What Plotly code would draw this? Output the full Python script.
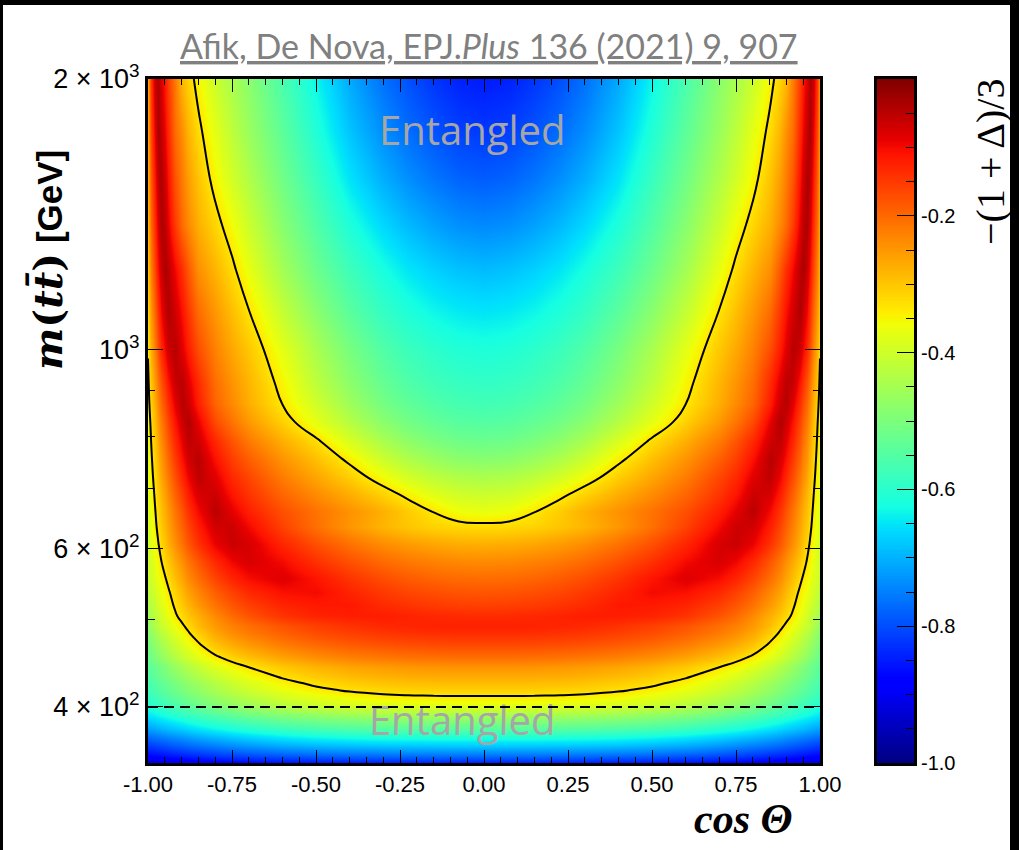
import numpy as np
import plotly.graph_objects as go

# cos(theta) columns (positive half; the map is mirror-symmetric in cos(theta))
cos_half = [0.0, 0.075, 0.15, 0.225, 0.3, 0.4, 0.5, 0.6, 0.7, 0.75, 0.8, 0.85, 0.88,
            0.9, 0.92, 0.94, 0.95, 0.96, 0.97, 0.98, 0.99, 1.0]

# invariant-mass rows [GeV]
mass = [346.5, 350, 355, 362, 370, 378, 386, 393, 400, 406, 412, 418, 425, 433, 443,
        455, 468, 482, 492, 505, 520, 537, 557, 580, 608, 635, 661, 690, 720, 755,
        790, 830, 870, 920, 1000, 1100, 1225, 1375, 1550, 1750, 2000]

# -(1+Delta)/3 on the (mass, cos_half) grid, one row per mass value
z_half = [
    [-0.85, -0.85, -0.85, -0.851, -0.852, -0.855, -0.86, -0.867, -0.877, -0.884, -0.891, -0.899, -0.904, -0.908, -0.912, -0.916, -0.919, -0.921, -0.923, -0.925, -0.928, -0.93],
    [-0.80, -0.80, -0.80, -0.801, -0.803, -0.806, -0.813, -0.822, -0.834, -0.842, -0.851, -0.861, -0.868, -0.873, -0.878, -0.883, -0.886, -0.889, -0.891, -0.894, -0.897, -0.90],
    [-0.75, -0.75, -0.75, -0.751, -0.753, -0.757, -0.764, -0.775, -0.789, -0.799, -0.809, -0.821, -0.828, -0.834, -0.84, -0.846, -0.849, -0.852, -0.855, -0.858, -0.862, -0.865],
    [-0.68, -0.68, -0.68, -0.682, -0.684, -0.689, -0.698, -0.71, -0.728, -0.739, -0.752, -0.766, -0.775, -0.782, -0.789, -0.796, -0.80, -0.804, -0.808, -0.812, -0.816, -0.82],
    [-0.61, -0.61, -0.611, -0.612, -0.614, -0.62, -0.63, -0.645, -0.665, -0.678, -0.692, -0.708, -0.719, -0.727, -0.735, -0.743, -0.747, -0.752, -0.756, -0.761, -0.765, -0.77],
    [-0.545, -0.545, -0.546, -0.547, -0.55, -0.556, -0.567, -0.583, -0.605, -0.619, -0.635, -0.652, -0.664, -0.673, -0.681, -0.69, -0.695, -0.70, -0.705, -0.71, -0.715, -0.72],
    [-0.49, -0.49, -0.491, -0.492, -0.495, -0.502, -0.514, -0.531, -0.555, -0.57, -0.587, -0.607, -0.619, -0.629, -0.638, -0.648, -0.653, -0.658, -0.663, -0.669, -0.674, -0.68],
    [-0.44, -0.44, -0.441, -0.442, -0.446, -0.453, -0.466, -0.484, -0.51, -0.527, -0.545, -0.566, -0.58, -0.589, -0.60, -0.61, -0.616, -0.621, -0.627, -0.633, -0.639, -0.645],
    [-0.385, -0.385, -0.386, -0.388, -0.391, -0.40, -0.414, -0.436, -0.466, -0.484, -0.505, -0.529, -0.545, -0.556, -0.568, -0.58, -0.586, -0.593, -0.60, -0.606, -0.613, -0.62],
    [-0.355, -0.355, -0.356, -0.358, -0.362, -0.371, -0.386, -0.408, -0.439, -0.458, -0.48, -0.505, -0.522, -0.534, -0.546, -0.559, -0.565, -0.572, -0.579, -0.586, -0.593, -0.60],
    [-0.331, -0.331, -0.332, -0.334, -0.338, -0.347, -0.363, -0.386, -0.418, -0.438, -0.461, -0.487, -0.504, -0.516, -0.529, -0.542, -0.549, -0.556, -0.563, -0.57, -0.577, -0.585],
    [-0.31, -0.31, -0.311, -0.313, -0.317, -0.327, -0.343, -0.367, -0.401, -0.422, -0.446, -0.473, -0.49, -0.503, -0.516, -0.53, -0.537, -0.545, -0.552, -0.559, -0.567, -0.575],
    [-0.29, -0.29, -0.291, -0.293, -0.297, -0.308, -0.324, -0.349, -0.384, -0.406, -0.431, -0.459, -0.477, -0.49, -0.504, -0.519, -0.526, -0.533, -0.541, -0.549, -0.557, -0.565],
    [-0.27, -0.27, -0.27, -0.272, -0.277, -0.287, -0.303, -0.326, -0.36, -0.382, -0.408, -0.437, -0.456, -0.47, -0.485, -0.50, -0.508, -0.516, -0.524, -0.533, -0.544, -0.555],
    [-0.245, -0.245, -0.247, -0.25, -0.255, -0.265, -0.28, -0.302, -0.333, -0.355, -0.38, -0.412, -0.435, -0.45, -0.467, -0.487, -0.497, -0.506, -0.515, -0.524, -0.533, -0.54],
    [-0.205, -0.205, -0.207, -0.21, -0.215, -0.225, -0.24, -0.262, -0.292, -0.312, -0.34, -0.373, -0.397, -0.413, -0.432, -0.452, -0.462, -0.473, -0.485, -0.497, -0.511, -0.525],
    [-0.17, -0.17, -0.172, -0.175, -0.18, -0.19, -0.205, -0.226, -0.256, -0.276, -0.30, -0.343, -0.37, -0.388, -0.408, -0.43, -0.441, -0.453, -0.466, -0.479, -0.494, -0.51],
    [-0.138, -0.138, -0.14, -0.143, -0.148, -0.158, -0.172, -0.193, -0.222, -0.242, -0.27, -0.31, -0.34, -0.36, -0.382, -0.404, -0.416, -0.428, -0.442, -0.456, -0.472, -0.49],
    [-0.124, -0.124, -0.125, -0.128, -0.132, -0.142, -0.157, -0.178, -0.207, -0.226, -0.252, -0.29, -0.322, -0.342, -0.362, -0.384, -0.396, -0.408, -0.421, -0.436, -0.455, -0.475],
    [-0.135, -0.134, -0.131, -0.126, -0.12, -0.121, -0.127, -0.144, -0.178, -0.203, -0.236, -0.277, -0.30, -0.32, -0.341, -0.366, -0.38, -0.395, -0.41, -0.425, -0.44, -0.455],
    [-0.158, -0.156, -0.152, -0.144, -0.134, -0.115, -0.116, -0.127, -0.156, -0.179, -0.211, -0.252, -0.281, -0.303, -0.327, -0.352, -0.365, -0.379, -0.394, -0.408, -0.424, -0.44],
    [-0.18, -0.178, -0.172, -0.163, -0.15, -0.127, -0.10, -0.106, -0.132, -0.157, -0.189, -0.232, -0.262, -0.285, -0.312, -0.34, -0.352, -0.365, -0.379, -0.393, -0.408, -0.425],
    [-0.205, -0.203, -0.197, -0.186, -0.171, -0.145, -0.111, -0.081, -0.102, -0.126, -0.161, -0.206, -0.238, -0.264, -0.292, -0.322, -0.337, -0.35, -0.363, -0.378, -0.393, -0.41],
    [-0.235, -0.233, -0.226, -0.216, -0.201, -0.174, -0.14, -0.099, -0.076, -0.097, -0.132, -0.181, -0.216, -0.243, -0.271, -0.302, -0.318, -0.334, -0.351, -0.368, -0.387, -0.405],
    [-0.275, -0.273, -0.266, -0.254, -0.238, -0.21, -0.173, -0.128, -0.075, -0.064, -0.092, -0.142, -0.181, -0.21, -0.243, -0.278, -0.297, -0.316, -0.336, -0.356, -0.378, -0.40],
    [-0.322, -0.319, -0.312, -0.299, -0.281, -0.249, -0.208, -0.158, -0.099, -0.066, -0.071, -0.121, -0.162, -0.193, -0.227, -0.264, -0.283, -0.304, -0.324, -0.345, -0.367, -0.39],
    [-0.37, -0.362, -0.336, -0.306, -0.277, -0.245, -0.211, -0.173, -0.123, -0.087, -0.051, -0.10, -0.143, -0.177, -0.214, -0.253, -0.273, -0.295, -0.316, -0.338, -0.362, -0.385],
    [-0.405, -0.399, -0.379, -0.346, -0.313, -0.275, -0.238, -0.197, -0.145, -0.112, -0.066, -0.075, -0.119, -0.155, -0.194, -0.236, -0.258, -0.281, -0.305, -0.33, -0.354, -0.38],
    [-0.44, -0.434, -0.418, -0.392, -0.355, -0.307, -0.264, -0.219, -0.163, -0.131, -0.083, -0.055, -0.096, -0.132, -0.173, -0.218, -0.242, -0.267, -0.293, -0.32, -0.347, -0.375],
    [-0.485, -0.48, -0.464, -0.438, -0.404, -0.344, -0.293, -0.246, -0.19, -0.155, -0.107, -0.049, -0.073, -0.108, -0.151, -0.199, -0.225, -0.252, -0.28, -0.309, -0.339, -0.37],
    [-0.52, -0.515, -0.50, -0.477, -0.444, -0.389, -0.324, -0.274, -0.219, -0.179, -0.131, -0.068, -0.055, -0.088, -0.131, -0.181, -0.209, -0.238, -0.268, -0.299, -0.331, -0.365],
    [-0.548, -0.544, -0.53, -0.51, -0.482, -0.431, -0.372, -0.31, -0.252, -0.213, -0.167, -0.089, -0.042, -0.068, -0.11, -0.162, -0.191, -0.221, -0.253, -0.287, -0.322, -0.358],
    [-0.57, -0.566, -0.553, -0.533, -0.507, -0.458, -0.398, -0.334, -0.274, -0.236, -0.195, -0.12, -0.065, -0.048, -0.086, -0.139, -0.169, -0.201, -0.236, -0.272, -0.31, -0.35],
    [-0.59, -0.586, -0.574, -0.555, -0.528, -0.481, -0.422, -0.349, -0.283, -0.247, -0.206, -0.134, -0.083, -0.051, -0.061, -0.111, -0.142, -0.177, -0.214, -0.254, -0.297, -0.342],
    [-0.615, -0.611, -0.598, -0.579, -0.553, -0.505, -0.445, -0.373, -0.302, -0.268, -0.227, -0.171, -0.119, -0.084, -0.048, -0.066, -0.096, -0.133, -0.175, -0.222, -0.274, -0.33],
    [-0.65, -0.645, -0.633, -0.613, -0.587, -0.541, -0.482, -0.411, -0.331, -0.292, -0.25, -0.203, -0.146, -0.107, -0.07, -0.041, -0.064, -0.098, -0.142, -0.193, -0.25, -0.313],
    [-0.69, -0.684, -0.67, -0.649, -0.621, -0.576, -0.519, -0.451, -0.369, -0.322, -0.281, -0.241, -0.182, -0.139, -0.097, -0.052, -0.038, -0.065, -0.107, -0.161, -0.224, -0.295],
    [-0.74, -0.734, -0.717, -0.693, -0.663, -0.615, -0.552, -0.484, -0.405, -0.358, -0.316, -0.275, -0.235, -0.203, -0.152, -0.087, -0.052, -0.041, -0.078, -0.133, -0.201, -0.28],
    [-0.785, -0.778, -0.76, -0.735, -0.704, -0.653, -0.583, -0.512, -0.438, -0.395, -0.35, -0.297, -0.256, -0.221, -0.178, -0.108, -0.072, -0.04, -0.055, -0.11, -0.183, -0.27],
    [-0.82, -0.813, -0.794, -0.768, -0.736, -0.683, -0.611, -0.537, -0.464, -0.421, -0.374, -0.322, -0.281, -0.242, -0.204, -0.131, -0.096, -0.058, -0.034, -0.084, -0.163, -0.263],
    [-0.85, -0.843, -0.824, -0.797, -0.764, -0.709, -0.635, -0.559, -0.483, -0.445, -0.404, -0.35, -0.313, -0.284, -0.22, -0.153, -0.117, -0.077, -0.041, -0.06, -0.144, -0.258],
]

entanglement_level = -1.0 / 3.0
threshold_mass = 400

# region labels: (cos theta, mass) anchor of each "Entangled" tag
region_label_cos = [-0.035, -0.065]
region_label_mass = [1731, 382]

x_tick_vals = [-1.0, -0.75, -0.5, -0.25, 0.0, 0.25, 0.5, 0.75, 1.0]
x_tick_text = ["-1.00", "-0.75", "-0.50", "-0.25", "0.00", "0.25", "0.50", "0.75", "1.00"]
y_tick_vals = [400, 600, 1000, 2000]
y_tick_text = ["4 × 10<sup>2</sup>", "6 × 10<sup>2</sup>", "10<sup>3</sup>", "2 × 10<sup>3</sup>"]
y_minor_vals = [500, 700, 800, 900]
cb_tick_vals = [-1.0, -0.8, -0.6, -0.4, -0.2]
cb_tick_text = ["-1.0", "-0.8", "-0.6", "-0.4", "-0.2"]

assert all(len(row) == len(cos_half) for row in z_half) and len(z_half) == len(mass)

# mirror the half grid onto -1 <= cos(theta) <= 1
cos_full = [-c for c in reversed(cos_half[1:])] + cos_half
z_full = [list(reversed(row[1:])) + row for row in z_half]


def jet_colorscale():
    stops = [0.0, 0.11, 0.125, 0.34, 0.35, 0.375, 0.5, 0.64, 0.65, 0.66, 0.89, 0.91, 1.0]
    r = np.interp(stops, [0, 0.35, 0.66, 0.89, 1], [0, 0, 1, 1, 0.5])
    g = np.interp(stops, [0, 0.125, 0.375, 0.64, 0.91, 1], [0, 0, 1, 1, 0, 0])
    b = np.interp(stops, [0, 0.11, 0.34, 0.65, 1], [0.5, 1, 1, 0, 0])
    return [[s, "rgb(%d,%d,%d)" % (round(255 * rr), round(255 * gg), round(255 * bb))]
            for s, rr, gg, bb in zip(stops, r, g, b)]


JET = jet_colorscale()

W, H = 1019, 850
L, R, T, B = 148, 105, 79, 87
pw, ph = W - L - R, H - T - B
plot_right = 820
cb_left = 877


def px_x(p):
    return (p - L) / pw


def px_y(p):
    return (H - B - p) / ph


fig = go.Figure()

fig.add_trace(go.Heatmap(
    x=cos_full, y=mass, z=z_full, zmin=-1, zmax=0, colorscale=JET,
    zsmooth="best", showscale=False, hoverinfo="skip",
))

fig.add_trace(go.Contour(
    x=cos_full, y=mass, z=z_full, autocontour=False,
    contours=dict(start=entanglement_level, end=entanglement_level, size=1, coloring="lines"),
    colorscale=[[0, "black"], [1, "black"]], line=dict(width=2, smoothing=1.3),
    showscale=False, hoverinfo="skip",
))

# "Entangled" tags sit under the threshold line
fig.add_trace(go.Scatter(
    x=region_label_cos, y=region_label_mass, mode="text", text=["Entangled", "Entangled"],
    textposition="middle center",
    textfont=dict(family="Open Sans, sans-serif", size=40, color="#a6a6a6"),
    hoverinfo="skip", showlegend=False,
))

fig.add_trace(go.Scatter(
    x=[-1, 1], y=[threshold_mass, threshold_mass], mode="lines",
    line=dict(color="black", width=2, dash="10px,6px"), hoverinfo="skip", showlegend=False,
))

# colour-scale strip, drawn as its own heatmap so the ticks sit on top of it
cb_vals = np.linspace(-1, 0, 401)
fig.add_trace(go.Heatmap(
    x=[0, 1], y=cb_vals, z=[[v, v] for v in cb_vals], zmin=-1, zmax=0,
    colorscale=JET, showscale=False, hoverinfo="skip", xaxis="x2", yaxis="y2",
))

axis_common = dict(showline=True, linecolor="black", linewidth=3, mirror="ticks",
                   ticks="inside", tickcolor="black", showgrid=False, zeroline=False)

fig.update_layout(
    width=W, height=H, margin=dict(l=L, r=R, t=T, b=B),
    paper_bgcolor="black", plot_bgcolor="white", showlegend=False,
    font=dict(family="Liberation Sans, Arial, sans-serif", color="black"),
    xaxis=dict(domain=[0, px_x(plot_right)], range=[-1, 1], tickvals=x_tick_vals,
               ticktext=x_tick_text, ticklen=13, tickwidth=1.2,
               minor=dict(dtick=0.05, tick0=0, ticklen=6, ticks="inside", tickwidth=1),
               tickfont=dict(size=22), **axis_common),
    yaxis=dict(type="log", range=[np.log10(346.5), np.log10(2000)], tickvals=y_tick_vals,
               ticktext=y_tick_text, ticklen=15, tickwidth=1.2,
               minor=dict(tickvals=y_minor_vals, ticklen=7, ticks="inside", tickwidth=1),
               tickfont=dict(size=27), **axis_common),
    xaxis2=dict(domain=[px_x(cb_left), 1], range=[0, 1], anchor="y2", showticklabels=False,
                showline=True, linecolor="black", linewidth=3, mirror=True, ticks="",
                showgrid=False, zeroline=False),
    yaxis2=dict(domain=[0, 1], range=[-1, 0], anchor="x2", side="right",
                tickvals=cb_tick_vals, ticktext=cb_tick_text, ticks="inside", ticklen=17,
                tickwidth=1.2, tickcolor="black",
                minor=dict(dtick=0.05, tick0=0, ticklen=8, ticks="inside", tickwidth=1),
                showline=True, linecolor="black", linewidth=3, mirror=True,
                showgrid=False, zeroline=False, tickfont=dict(size=20)),
    shapes=[dict(type="rect", xref="paper", yref="paper", layer="below",
                 x0=px_x(3), x1=px_x(1010), y0=px_y(850), y1=px_y(5),
                 fillcolor="white", line=dict(width=0))],
    annotations=[
        dict(text="<u>Afik, De Nova, EPJ.<i>Plus</i> 136 (2021) 9, 907</u>",
             xref="paper", yref="paper", x=px_x(489), y=px_y(46), showarrow=False,
             xanchor="center", yanchor="middle",
             font=dict(family="Lato, Open Sans, sans-serif", size=34, color="#808080")),
        dict(text="<span style=\"font-family:'DejaVu Serif', serif; font-size:40px\"><b><i>m</i>(<i>tt̄</i>)</b></span> <b>[GeV]</b>",
             xref="paper", yref="paper", x=px_x(47), y=px_y(260), textangle=-90,
             showarrow=False, xanchor="center", yanchor="middle",
             font=dict(family="Liberation Sans, Arial, sans-serif", size=35, color="black")),
        dict(text="<b><i>cos Θ</i></b>", xref="paper", yref="paper", x=px_x(743), y=px_y(819),
             showarrow=False, xanchor="center", yanchor="middle",
             font=dict(family="Liberation Serif, serif", size=42, color="black")),
        dict(text="−(1 + Δ)/3", xref="paper", yref="paper", x=px_x(990), y=px_y(162),
             textangle=-90, showarrow=False, xanchor="center", yanchor="middle",
             font=dict(family="Liberation Serif, serif", size=40, color="black")),
    ],
)

fig.write_html("out.html")
